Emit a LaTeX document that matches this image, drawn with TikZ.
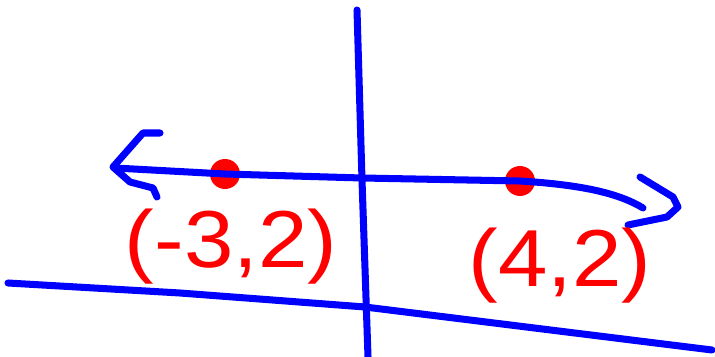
\documentclass[tikz,border=0pt]{standalone}
\usepackage{fontspec}
\setmainfont{Liberation Sans}
\tikzset{
  pen/.style={blue, line width=4pt, line cap=round, line join=round},
  dot/.style={circle, fill=red, inner sep=0pt, minimum size=0.6cm},
  lbl/.style={red, inner sep=0pt, font=\fontsize{46}{46}\selectfont, xscale=1.1}
}
\begin{document}
\begin{tikzpicture}[x=0.02cm, y=-0.02cm]
  \useasboundingbox (0,0) rectangle (715,357);

  % axes
  \draw[pen] (357,10) -- (362,180) -- (368,357);
  \draw[pen] (8,283) -- (180,293) -- (365,307) -- (712,350);

  % the line y = 2
  \node[dot] (pA) at (225,174) {};
  \node[dot] (pB) at (520,181) {};
  \draw[pen] (115,168) -- (pA.center) -- (362,178) -- (pB.center)
    .. controls (585,185) and (620,194) .. (643,208);

  % arrow heads
  \draw[pen] (160,133) -- (143,133) -- (113,167) -- (130,182) -- (153,188) -- (157,197);
  \draw[pen] (640,177) -- (673,197) -- (678,207) -- (667,217) -- (628,225);

  % labels
  \node[lbl] (lA) at (231,247) {(-3,2)};
  \node[lbl] (lB) at (560,266) {(4,2)};
\end{tikzpicture}
\end{document}
